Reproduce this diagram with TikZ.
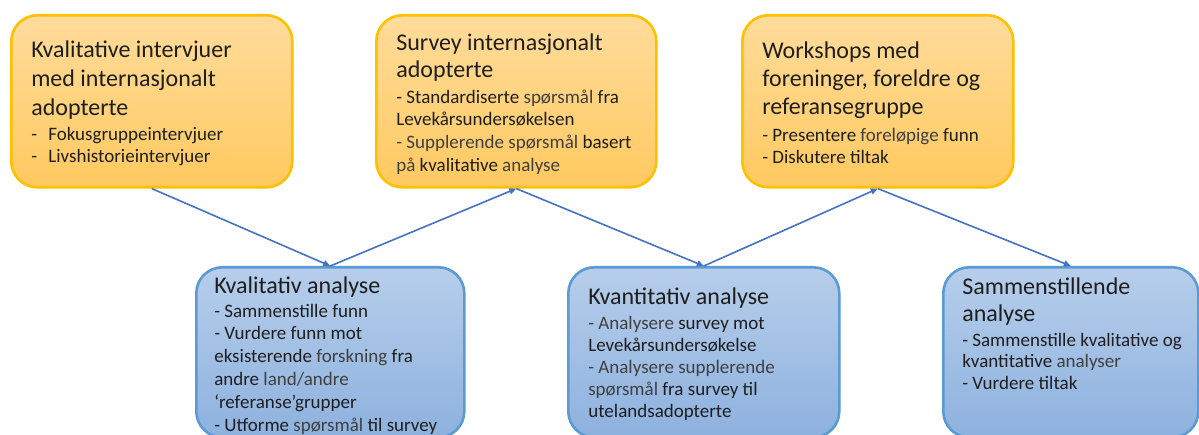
\documentclass[tikz,border=0pt]{standalone}
\usepackage{fontspec}
\setmainfont{Carlito}
\usepackage{tikz}
\usetikzlibrary{arrows.meta}

\definecolor{planline}{HTML}{FFC000}
\definecolor{plantop}{HTML}{FFDC9C}
\definecolor{planbot}{HTML}{FFC95F}
\definecolor{analine}{HTML}{5B9BD5}
\definecolor{anatop}{HTML}{B7CEEB}
\definecolor{anabot}{HTML}{8DB1DE}
\definecolor{flow}{HTML}{4472C4}
\definecolor{ink}{HTML}{1E1E1E}
\definecolor{litetext}{HTML}{404040}

\newcommand{\lite}[1]{\textcolor{litetext}{#1}}
\newcommand{\subfont}{\fontsize{19}{22.8}\selectfont}
% width, height, first baseline, left pad, text
\newcommand{\boxtext}[5]{\parbox[t][#2][t]{#1}{\raggedright\leftskip=#4\fontsize{24}{29}\selectfont\rule{0pt}{#3}#5}}

\begin{document}
\begin{tikzpicture}[x=1pt,y=-1pt,
  plan/.style={draw=planline,line width=2.6pt,rounded corners=26pt,top color=plantop,bottom color=planbot,anchor=north west,inner sep=0pt,text=ink},
  ana/.style={draw=analine,line width=2.6pt,rounded corners=26pt,top color=anatop,bottom color=anabot,anchor=north west,inner sep=0pt,text=ink},
  arr/.style={-{Triangle[length=7pt,width=6pt]},draw=flow,line width=1.6pt}
]
\useasboundingbox (0,0) rectangle (1199,435);
\clip (0,0) rectangle (1199,435);
\fill[white] (0,0) rectangle (1199,435);

% data collection
\node[plan] (intervju) at (10,14) {\boxtext{281pt}{172pt}{42pt}{20pt}{Kvalitative intervjuer\\med internasjonalt\\adopterte\par
  \subfont\vspace{2pt}\makebox[17pt][l]{-}Fokusgruppeintervjuer\\\makebox[17pt][l]{-}Livshistorieintervjuer}};
\node[plan] (survey) at (375,14) {\boxtext{280pt}{172pt}{35pt}{20pt}{Survey internasjonalt\\[-2pt]adopterte\par
  \subfont\vspace{3pt}- Standardiserte \lite{spørsmål} fra\\Levekårsundersøkelsen\\\lite{- Supplerende spørsmål} basert\\\lite{på} kvalitative \lite{analyse}}};
\node[plan] (workshop) at (741,14) {\boxtext{271pt}{172pt}{43pt}{20pt}{Workshops med\\[-1pt]foreninger, foreldre og\\[-1pt]referansegruppe\par
  \subfont\vspace{4pt}- Presentere \lite{foreløpige} funn\\- Diskutere tiltak}};

% analysis
\node[ana] (kvalanalyse) at (195,266) {\boxtext{268pt}{170pt}{26pt}{18pt}{Kvalitativ analyse\par
  \subfont\vspace{1pt}- Sammenstille funn\\- Vurdere funn mot\\eksisterende \lite{forskning} fra\\andre \lite{land/andre}\\‘referanse’grupper\\- Utforme \lite{spørsmål} til survey}};
\node[ana] (kvantanalyse) at (567,266) {\boxtext{271pt}{170pt}{37pt}{20pt}{Kvantitativ analyse\par
  \subfont\vspace{2pt}\lite{- Analysere} survey mot\\Levekårsundersøkelse\\[-1pt]\lite{- Analysere supplerende}\\[-1pt]\lite{spørsmål} fra survey til\\[-1pt]utelandsadopterte}};
\node[ana] (samanalyse) at (942,266) {\boxtext{255pt}{170pt}{27pt}{19pt}{Sammenstillende\\[-2pt]analyse\par
  \subfont\vspace{2pt}- Sammenstille kvalitative og\\[-1pt]kvantitative \lite{analyser}\\[-1pt]- Vurdere tiltak}};

\draw[arr] (intervju.south) -- (kvalanalyse.north);
\draw[arr] (kvalanalyse.north) -- (survey.south);
\draw[arr] (survey.south) -- (kvantanalyse.north);
\draw[arr] (kvantanalyse.north) -- (workshop.south);
\draw[arr] (workshop.south) -- (samanalyse.north);
\end{tikzpicture}
\end{document}
